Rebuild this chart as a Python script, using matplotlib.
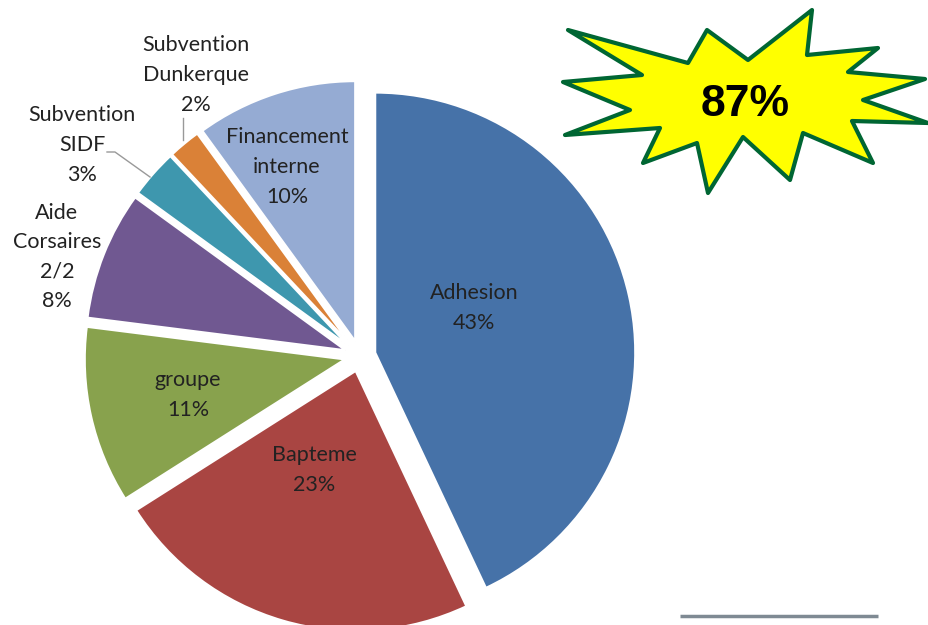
import numpy as np
import matplotlib
matplotlib.use("Agg")
import matplotlib.pyplot as plt
from matplotlib.patches import Polygon

# data
labels = ["Adhesion", "Bapteme", "groupe", "Aide\nCorsaires\n2/2",
          "Subvention\nSIDF", "Subvention\nDunkerque", "Financement\ninterne"]
values = [43, 23, 11, 8, 3, 2, 10]
colors = ["#4672A8", "#A94542", "#88A24D", "#705891",
          "#3E97AE", "#DA8137", "#95ABD3"]
highlight = "87%"

W, H = 929, 625
fig = plt.figure(figsize=(W / 100, H / 100), dpi=100)
ax = fig.add_axes([0, 0, 1, 1])

# pie in pixel coordinates (y up)
cx, cy, R = 360, H - 356, 260
wedges, _ = ax.pie(values, colors=colors, startangle=90, counterclock=False,
                   explode=[0.06 * R] * len(values), radius=R, center=(cx, cy),
                   wedgeprops=dict(edgecolor="white", linewidth=1.5))

# label anchors (image px)
label_pos = [(474, 308), (314, 470), (188, 395), (57, 257),
             (82, 145), (196, 75), (287, 167)]
for lab, v, (x, y) in zip(labels, values, label_pos):
    ax.text(x, H - y, f"{lab}\n{v}%", ha="center", va="center",
            fontsize=15.5, family="Lato", color="#222222", linespacing=1.6)

# leader lines
ax.plot([107, 115, 150], [H - 152, H - 152, H - 177], color="#999999", lw=1)
ax.plot([183, 183], [H - 118, H - 140], color="#999999", lw=1)

# starburst
star = [(568, 30), (688, 63), (707, 30), (748, 60), (812, 10), (807, 55),
        (878, 48), (848, 72), (925, 79), (863, 100), (928, 123), (852, 121),
        (873, 163), (803, 133), (790, 180), (743, 137), (708, 193), (697, 143),
        (643, 163), (660, 128), (565, 135), (630, 110), (563, 82), (642, 75)]
star = [(x, H - y) for x, y in star]
ax.add_patch(Polygon(star, closed=True, facecolor="#FFFF00",
                     edgecolor="#006633", linewidth=3, joinstyle="round",
                     clip_on=False))
ax.text(745, H - 104, highlight, ha="center", va="center", fontsize=32,
        fontweight="bold", family="Liberation Sans", color="black")

# grey rule bottom right
ax.plot([680, 878], [H - 616, H - 616], color="#7F8A93", lw=2.5,
        solid_capstyle="butt")

ax.set_xlim(0, W)
ax.set_ylim(0, H)
ax.set_aspect("equal")
ax.axis("off")

fig.savefig("out.png", dpi=100)
